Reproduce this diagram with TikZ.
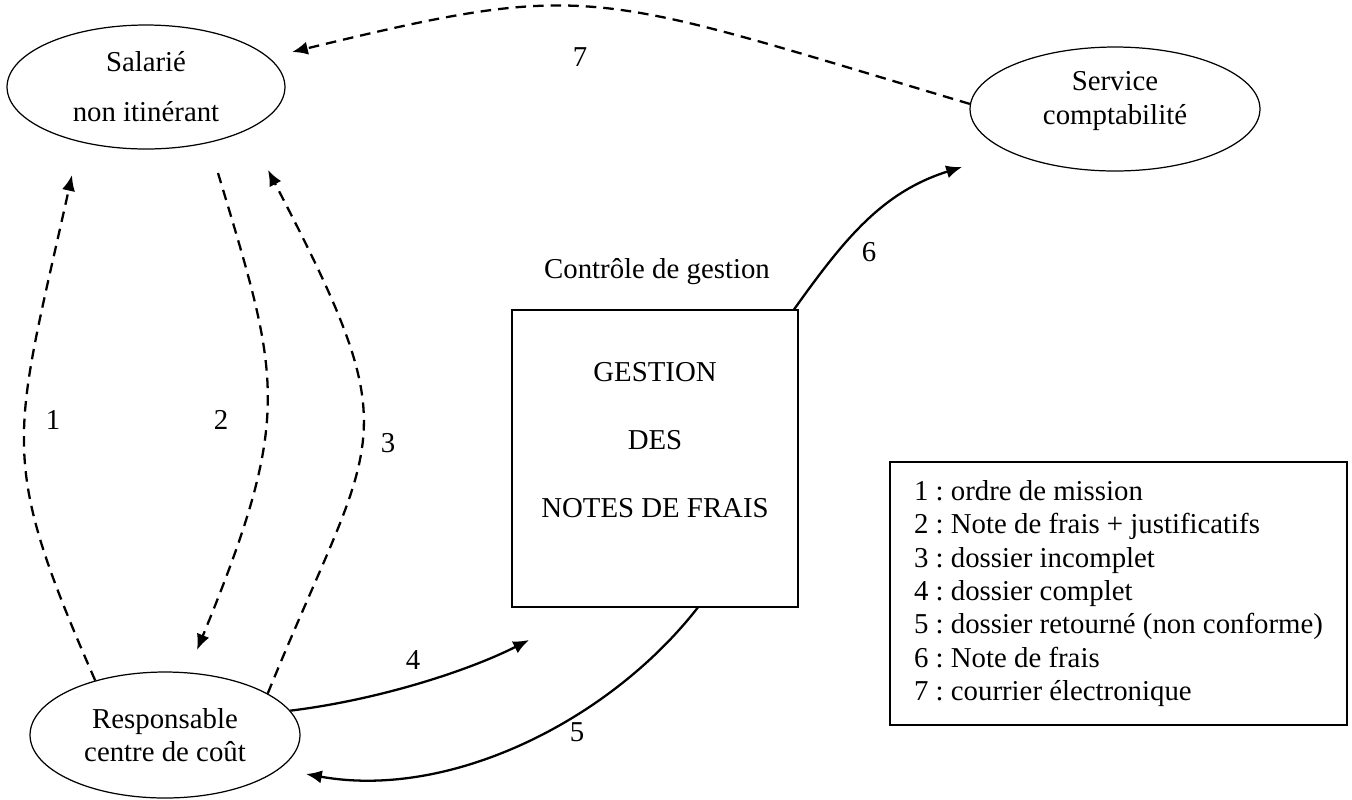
\documentclass[tikz,border=0pt]{standalone}
\usepackage{fontspec}
\setmainfont{Liberation Serif}
\usepackage{tikz}
\usetikzlibrary{arrows.meta,shapes.geometric,positioning}
\frenchspacing

\begin{document}
\begin{tikzpicture}[x=0.02cm,y=-0.02cm,font=\fontsize{16.4}{19}\selectfont,
	acteur/.style={draw,ellipse,line width=0.7pt,align=center},
	cadre/.style={draw,rectangle,line width=0.7pt},
	flux/.style={line width=1.3pt,-{Latex[length=9pt,width=7.5pt]}},
	fluxpt/.style={flux,dash pattern=on 6pt off 4pt}]
			\tikzstyle{every node}+=[inner sep=0pt]
			\useasboundingbox (0,0) rectangle (1352,799);
			\node [acteur,minimum width=5.56cm,minimum height=2.48cm] (sal) at (146,87) {Salarié\\[9.5pt]non itinérant};
			\node [acteur,minimum width=5.8cm,minimum height=2.48cm] (serv) at (1115,109) {};
			\node [align=center] (servt) at (1115,101) {Service\\comptabilité};
			\node [acteur,minimum width=5.4cm,minimum height=2.52cm] (resp) at (165,735) {Responsable\\centre de coût};
			\node [cadre,minimum width=5.72cm,minimum height=5.94cm] (gest) at (655,458.5) {};
			\node [align=center] (gtxt) at (655,440) {GESTION\\[19.5pt]DES\\[19.5pt]NOTES DE FRAIS};
			\node (ctrl) at (657,272) {Contrôle de gestion};
			\node [cadre,align=left,minimum width=9.14cm,minimum height=5.26cm] (leg) at (1118.5,593.5) {1 : ordre de mission\\2 : Note de frais + justificatifs\\3 : dossier incomplet\\4 : dossier complet\\5 : dossier retourné (non conforme)\\6 : Note de frais\\7 : courrier électronique};
			\coordinate (p1) at (72,175);
			\coordinate (q2) at (218,173);
			\coordinate (p2) at (197,650);
			\coordinate (p3) at (268,170);
			\coordinate (p4) at (529,640);
			\coordinate (p5) at (306,774);
			\coordinate (p6) at (962,167);
			\coordinate (p7) at (292,52);
			\draw [fluxpt] (resp.142) .. controls +(-99,-226) and +(-59,266) .. (p1);
			\draw [fluxpt] (q2) .. controls +(62,206) and +(97,-236) .. (p2);
			\draw [fluxpt] (resp.22) .. controls +(108,-265) and +(144,276) .. (p3);
			\draw [flux] (resp.11) .. controls +(90,-11) and +(-59,30) .. (p4);
			\draw [flux] (gest.-74) .. controls +(-88,113) and +(144,26) .. (p5);
			\draw [flux] (gest.47) .. controls +(50,-70) and +(-80,25) .. (p6);
			\draw [fluxpt] (serv.178) .. controls +(-380,-113) and +(301,-73) .. (p7);
			\node (n1) at (53,420) {1};
			\node (n2) at (221,420) {2};
			\node (n3) at (388,443) {3};
			\node (n4) at (413,660) {4};
			\node (n5) at (577,732) {5};
			\node (n6) at (869,252) {6};
			\node (n7) at (580,57) {7};
\end{tikzpicture}
\end{document}
